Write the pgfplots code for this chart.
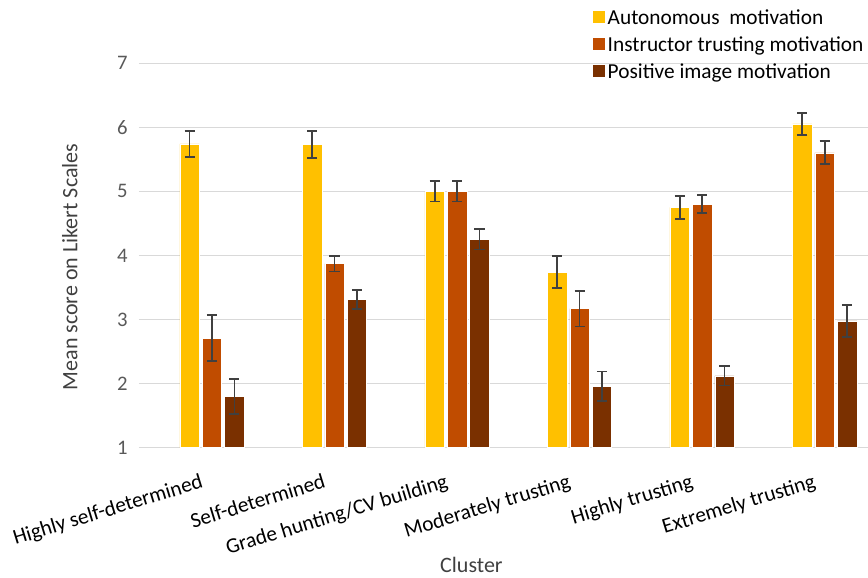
\documentclass[border=0pt]{standalone}
\usepackage{fontspec}
\setmainfont{Carlito}
\usepackage{pgfplots}
\pgfplotsset{compat=1.18}
\definecolor{autoc}{HTML}{FFC000}
\definecolor{instc}{HTML}{C04C00}
\definecolor{posc}{HTML}{7A3000}
\definecolor{gridc}{HTML}{D9D9D9}
\definecolor{errc}{HTML}{404040}
\definecolor{tickc}{HTML}{595959}
\begin{document}
\begin{tikzpicture}
\begin{axis}[
  at={(0,0)}, anchor=south west,
  scale only axis, width=546.75pt, height=288.5pt,
  ybar=2.2pt, bar width=14.6pt,
  xmin=-0.596, xmax=5.354, ymin=1, ymax=7,
  ytick={1,2,3,4,5,6,7},
  xtick=data,
  xticklabels={Highly self-determined,Self-determined,Grade hunting/CV building,Moderately trusting,Highly trusting,Extremely trusting},
  ymajorgrids, grid style={line width=0.75pt, color=gridc},
  axis line style={draw=none}, major tick length=0pt,
  /pgf/number format/assume math mode=true,
  yticklabel style={font=\fontsize{15.5}{18}\selectfont, text=tickc, xshift=-5pt},
  xticklabel style={font=\fontsize{16}{18}\selectfont, text=black, rotate=17, anchor=north east, xshift=-11pt, yshift=-12pt},
  ylabel={Mean score on Likert Scales},
  ylabel style={font=\fontsize{16.5}{18}\selectfont, text=errc, at={(axis description cs:-0.095,0.47)}, anchor=center},
  xlabel={Cluster},
  xlabel style={font=\fontsize{16.5}{18}\selectfont, text=errc, at={(axis description cs:0.456,-0.305)}, anchor=center},
  legend style={at={(0.617,1.153)}, anchor=north west, draw=none, fill=none,
    font=\fontsize{16}{18}\selectfont, row sep=3.8pt,
    /tikz/every odd column/.append style={inner xsep=1pt}},
  legend cell align=left,
  legend image code/.code={\fill[#1,draw=none] (0pt,-3.6pt) rectangle (9pt,5.4pt);},
  error bars/y dir=both, error bars/y explicit,
  error bars/error bar style={line width=1.3pt, color=errc},
  error bars/error mark options={rotate=90, mark size=3.8pt, line width=1.3pt, color=errc},
]
\addplot[fill=autoc, draw=white, line width=0.4pt] coordinates {
  (0,5.74) +- (0,0.20)
  (1,5.73) +- (0,0.21)
  (2,5.00) +- (0,0.16)
  (3,3.74) +- (0,0.25)
  (4,4.75) +- (0,0.18)
  (5,6.05) +- (0,0.17)};
\addplot[fill=instc, draw=white, line width=0.4pt] coordinates {
  (0,2.71) +- (0,0.36)
  (1,3.87) +- (0,0.12)
  (2,5.00) +- (0,0.16)
  (3,3.17) +- (0,0.28)
  (4,4.80) +- (0,0.14)
  (5,5.60) +- (0,0.18)};
\addplot[fill=posc, draw=white, line width=0.4pt] coordinates {
  (0,1.80) +- (0,0.27)
  (1,3.31) +- (0,0.15)
  (2,4.25) +- (0,0.16)
  (3,1.96) +- (0,0.23)
  (4,2.12) +- (0,0.15)
  (5,2.98) +- (0,0.25)};
\legend{Autonomous\ \ motivation,Instructor trusting motivation,Positive image motivation}
\end{axis}
\pgfresetboundingbox
\path[use as bounding box] (-104.25pt,-97pt) rectangle (546.75pt,335.8pt);
\end{tikzpicture}
\end{document}
